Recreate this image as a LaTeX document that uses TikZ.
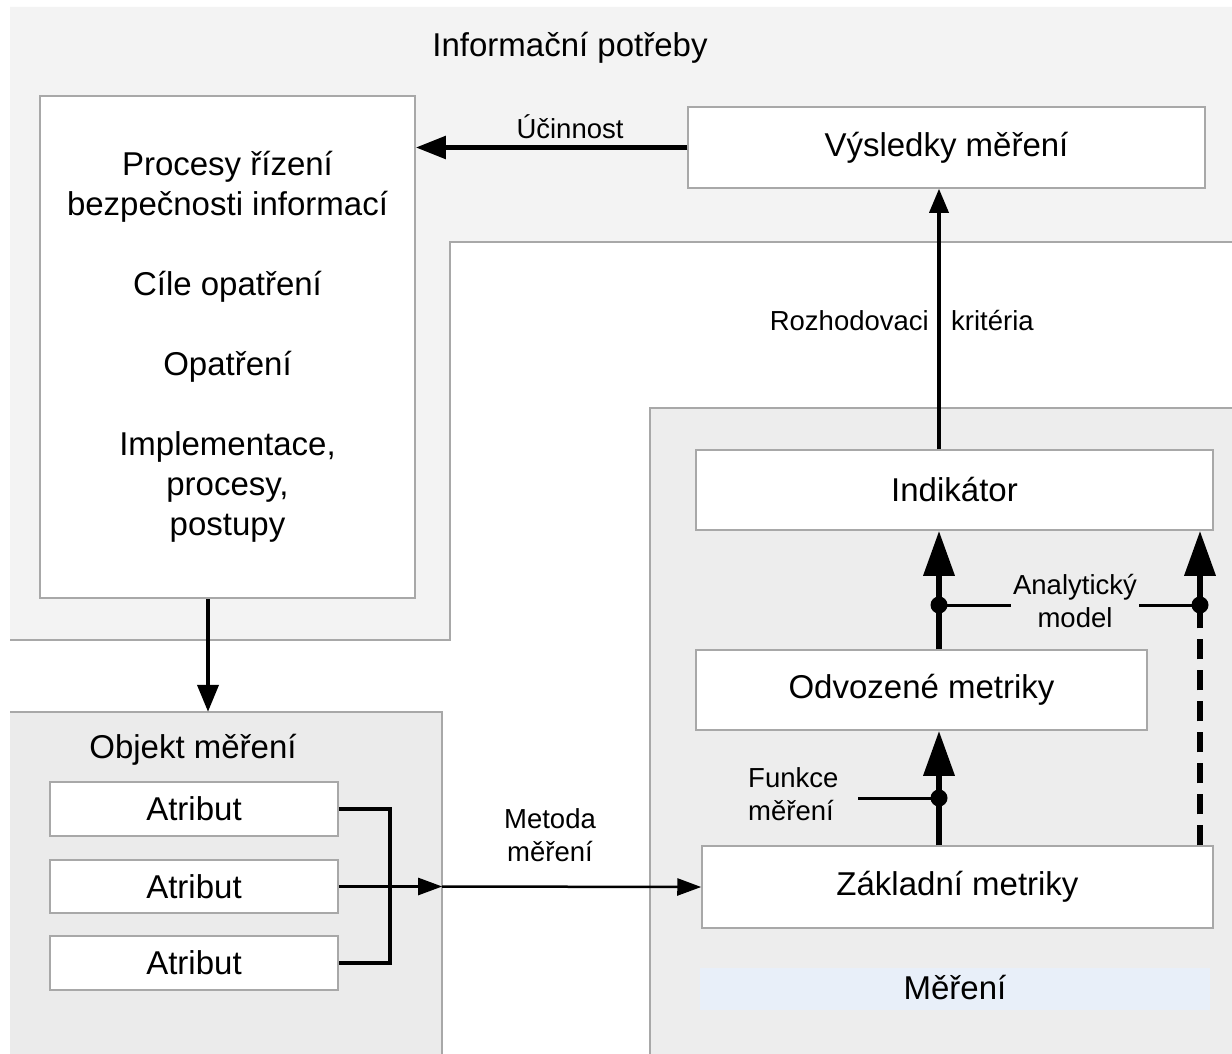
\documentclass[tikz,border=0pt]{standalone}
\usepackage{fontspec}
\setmainfont{Liberation Sans}
\usetikzlibrary{arrows.meta}
\definecolor{topgray}{HTML}{F3F3F3}
\definecolor{mergray}{HTML}{EDEDED}
\definecolor{objgray}{HTML}{EBEBEB}
\definecolor{edge}{HTML}{A8A8A8}
\definecolor{stripblue}{HTML}{E8EFF9}
\tikzset{
  box/.style={draw=edge, line width=1.5pt, fill=white, inner sep=0pt, align=center,
    font=\fontsize{33}{40}\selectfont},
  region/.style={inner sep=0pt, draw=none},
  lbl/.style={inner sep=1pt, align=center, font=\fontsize{27.5}{33}\selectfont},
  bigtxt/.style={inner sep=0pt, font=\fontsize{33}{40}\selectfont},
  heavy/.style={line width=5pt, -{Triangle[length=30pt,width=22pt]}},
  mid/.style={line width=4pt, -{Triangle[length=27pt,width=21pt]}},
  thinarr/.style={line width=3.5pt, -{Triangle[length=24pt,width=19pt]}},
  slim/.style={line width=2.5pt, -{Triangle[length=24pt,width=17pt]}},
  fat/.style={line width=6.5pt, -{Triangle[length=45pt,width=30pt]}},
  wire/.style={line width=4pt},
  fine/.style={line width=3pt},
  dot/.style={fill=black},
}
\begin{document}
\begin{tikzpicture}[x=1pt,y=-1pt]
\useasboundingbox (0,0) rectangle (1232,1054);
% background regions
\fill[topgray] (10,7) -- (1232,7) -- (1232,242) -- (450,242) -- (450,640) -- (10,640) -- cycle;
\draw[edge, line width=1.5pt] (10,640) -- (450,640) -- (450,242) -- (1232,242);
\node[region, fill=objgray, minimum width=432pt, minimum height=342pt] (objreg) at (226,883) {};
\draw[edge, line width=1.5pt] (10,712) -- (442,712) -- (442,1054);
\node[region, fill=mergray, minimum width=582pt, minimum height=646pt] (merreg) at (941,731) {};
\draw[edge, line width=1.5pt] (650,1054) -- (650,408) -- (1232,408);
\node[region, fill=stripblue, minimum width=510pt, minimum height=42pt] (strip) at (955,989) {};

% titles
\node[bigtxt] (infop) at (570,48) {Informační potřeby};
\node[bigtxt] (objt) at (193,750) {Objekt měření};
\node[bigtxt] (mert) at (955,988) {Měření};

% boxes
\node[box, minimum width=375pt, minimum height=502pt] (procesy) at (227.5,347)
  {Procesy řízení\\bezpečnosti informací\\[40pt]Cíle opatření\\[40pt]Opatření\\[40pt]Implementace,\\procesy,\\postupy};
\node[box, minimum width=517pt, minimum height=81pt] (vysl) at (946.5,147.5) {Výsledky měření};
\node[box, minimum width=517pt, minimum height=80pt] (ind) at (954.5,490) {Indikátor};
\node[box, minimum width=451pt, minimum height=80pt] (odv) at (921.5,690) {Odvozené metriky};
\node[box, minimum width=511pt, minimum height=82pt] (zakl) at (957.5,887) {Základní metriky};
\node[box, minimum width=288pt, minimum height=54pt] (a1) at (194,809) {Atribut};
\node[box, minimum width=288pt, minimum height=53pt] (a2) at (194,886.5) {Atribut};
\node[box, minimum width=288pt, minimum height=54pt] (a3) at (194,963) {Atribut};

% helper coordinates
\coordinate (cx) at (939,0);
\coordinate (dx) at (1200,0);
\coordinate (px) at (208,0);
\coordinate (jx) at (390,0);
\coordinate (d1) at (939,605);
\coordinate (d2) at (1200,605);
\coordinate (d3) at (939,798);
\coordinate (fl) at (858,798);

% connectors
\draw[heavy] (vysl.west) -- (procesy.east |- vysl.west);
\node[lbl] (ucin) at (570,127) {Účinnost};
\draw[thinarr] (ind.north -| cx) -- (vysl.south -| cx);
\node[lbl, anchor=east, inner sep=0pt] (rk1) at (929,321) {Rozhodovaci};
\node[lbl, anchor=west, inner sep=0pt] (rk2) at (951,321) {kritéria};
\draw[mid] (procesy.south -| px) -- (objreg.north -| px);

\draw[wire] (a1.east) -- (a1.east -| jx) -- (a3.east -| jx) -- (a3.east);
\draw[slim] (a2.east) -- (a2.east -| objreg.east);
\draw[slim] (a2.east -| objreg.east) -- (zakl.west);
\node[lbl] (metoda) at (550,835) {Metoda\\měření};

\draw[fat] (zakl.north -| cx) -- (odv.south -| cx);
\draw[fat] (odv.north -| cx) -- (ind.south -| cx);
\draw[line width=6.5pt, dash pattern=on 20pt off 11pt] (zakl.north -| dx) -- (d2);
\draw[fat] (d2) -- (ind.south -| dx);

\draw[fine] (d1) -- (d2);
\node[lbl, fill=mergray, inner sep=2pt] (anal) at (1075,601) {Analytický\\model};
\draw[fine] (fl) -- (d3);
\node[lbl, anchor=west, align=left, inner sep=0pt] (funkce) at (748,794) {Funkce\\měření};

\fill[dot] (d1) circle (8.5);
\fill[dot] (d2) circle (8.5);
\fill[dot] (d3) circle (8.5);
\end{tikzpicture}
\end{document}
